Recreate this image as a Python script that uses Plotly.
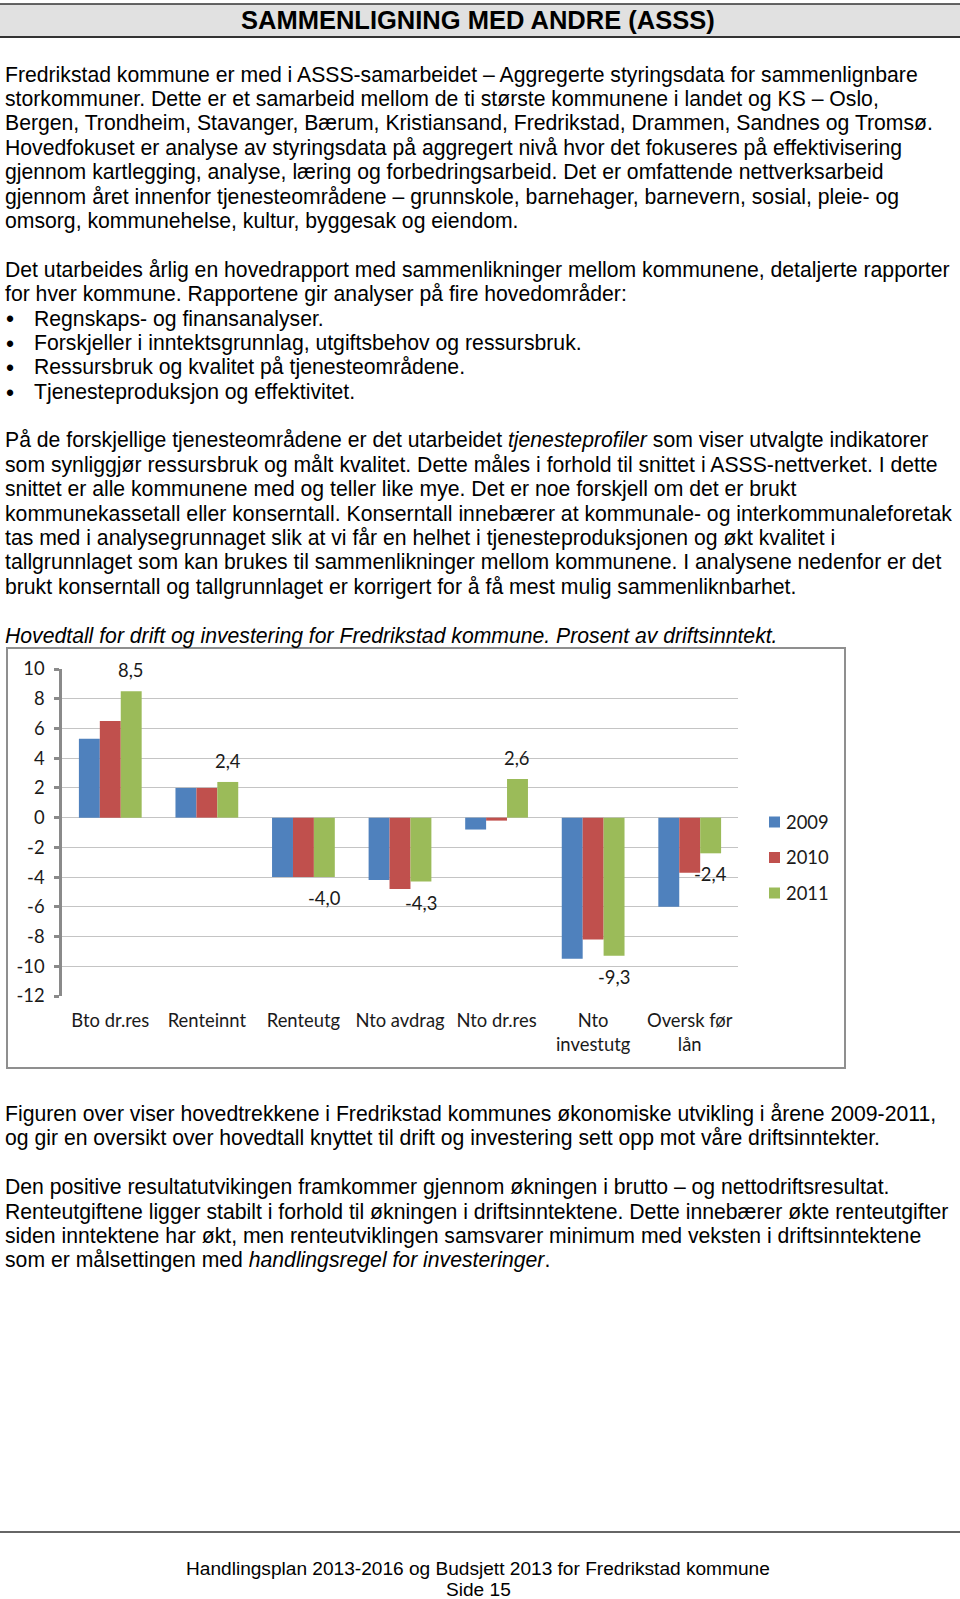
import plotly.graph_objects as go

# ---- chart data (prosent av driftsinntekt) ----
categories = ["Bto dr.res", "Renteinnt", "Renteutg", "Nto avdrag", "Nto dr.res",
              "Nto<br>investutg", "Oversk før<br>lån"]
years = ["2009", "2010", "2011"]
v2009 = [5.3, 2.0, -4.0, -4.2, -0.8, -9.5, -6.0]
v2010 = [6.5, 2.0, -4.0, -4.8, -0.2, -8.2, -3.7]
v2011 = [8.5, 2.4, -4.0, -4.3, 2.6, -9.3, -2.4]
colors = ["#4F81BD", "#C0504D", "#9BBB59"]
yticks = list(range(-12, 11, 2))

# ---- page text ----
header = "SAMMENLIGNING MED ANDRE (ASSS)"
para1 = [
    "Fredrikstad kommune er med i ASSS-samarbeidet – Aggregerte styringsdata for sammenlignbare",
    "storkommuner. Dette er et samarbeid mellom de ti største kommunene i landet og KS – Oslo,",
    "Bergen, Trondheim, Stavanger, Bærum, Kristiansand, Fredrikstad, Drammen, Sandnes og Tromsø.",
    "Hovedfokuset er analyse av styringsdata på aggregert nivå hvor det fokuseres på effektivisering",
    "gjennom kartlegging, analyse, læring og forbedringsarbeid. Det er omfattende nettverksarbeid",
    "gjennom året innenfor tjenesteområdene – grunnskole, barnehager, barnevern, sosial, pleie- og",
    "omsorg, kommunehelse, kultur, byggesak og eiendom.",
]
para2 = [
    "Det utarbeides årlig en hovedrapport med sammenlikninger mellom kommunene, detaljerte rapporter",
    "for hver kommune. Rapportene gir analyser på fire hovedområder:",
]
bullets = [
    "Regnskaps- og finansanalyser.",
    "Forskjeller i inntektsgrunnlag, utgiftsbehov og ressursbruk.",
    "Ressursbruk og kvalitet på tjenesteområdene.",
    "Tjenesteproduksjon og effektivitet.",
]
para3 = [
    "På de forskjellige tjenesteområdene er det utarbeidet <i>tjenesteprofiler</i> som viser utvalgte indikatorer",
    "som synliggjør ressursbruk og målt kvalitet. Dette måles i forhold til snittet i ASSS-nettverket. I dette",
    "snittet er alle kommunene med og teller like mye. Det er noe forskjell om det er brukt",
    "kommunekassetall eller konserntall. Konserntall innebærer at kommunale- og interkommunaleforetak",
    "tas med i analysegrunnaget slik at vi får en helhet i tjenesteproduksjonen og økt kvalitet i",
    "tallgrunnlaget som kan brukes til sammenlikninger mellom kommunene. I analysene nedenfor er det",
    "brukt konserntall og tallgrunnlaget er korrigert for å få mest mulig sammenliknbarhet.",
]
caption = "<i>Hovedtall for drift og investering for Fredrikstad kommune. Prosent av driftsinntekt.</i>"
para4 = [
    "Figuren over viser hovedtrekkene i Fredrikstad kommunes økonomiske utvikling i årene 2009-2011,",
    "og gir en oversikt over hovedtall knyttet til drift og investering sett opp mot våre driftsinntekter.",
]
para5 = [
    "Den positive resultatutvikingen framkommer gjennom økningen i brutto – og nettodriftsresultat.",
    "Renteutgiftene ligger stabilt i forhold til økningen i driftsinntektene. Dette innebærer økte renteutgifter",
    "siden inntektene har økt, men renteutviklingen samsvarer minimum med veksten i driftsinntektene",
    "som er målsettingen med <i>handlingsregel for investeringer</i>.",
]
footer = ["Handlingsplan 2013-2016 og Budsjett 2013 for Fredrikstad kommune", "Side 15"]

W, H = 960, 1599
def px(x): return x / W
def py(y): return 1 - y / H

LINE = 24.4
BODY = dict(family="Liberation Sans, Arial, sans-serif", size=21.2, color="#000000")
CHART_FONT = dict(family="Lato, sans-serif", size=18.4, color="#1a1a1a")

# plot area in page pixels
X0, X1, YT, YB = 62, 738, 669, 996
BARGAP = 0.35
ymin, ymax = -12, 10
ydom = [py(YB), py(YT)]
zero_pos = ydom[0] + (0 - ymin) / (ymax - ymin) * (ydom[1] - ydom[0])

fig = go.Figure()
for yr, vals, col in zip(years, [v2009, v2010, v2011], colors):
    fig.add_trace(go.Bar(x=categories, y=vals, name=yr, marker_color=col,
                         marker_line_width=0, hoverinfo="x+y", showlegend=False))

ann = []
def line(text, x, y, **kw):
    d = dict(text=text, x=px(x), y=py(y), xref="paper", yref="paper",
             xanchor="left", yanchor="middle", showarrow=False, font=BODY)
    d.update(kw)
    ann.append(d)

line("<b>" + header + "</b>", 478, 20, xanchor="center",
     font=dict(family="Liberation Sans, Arial, sans-serif", size=25.5, color="#000"))

y = 74.5
for t in para1:
    line(t, 3, y); y += LINE
y += LINE
for t in para2:
    line(t, 3, y); y += LINE
for t in bullets:
    line("•", 4, y + 1, font=dict(BODY, size=23)); line(t, 32, y); y += LINE
y += LINE
for t in para3:
    line(t, 3, y); y += LINE
y += LINE
line(caption, 3, y)

y = 1114
for t in para4:
    line(t, 3, y); y += LINE
y += LINE
for t in para5:
    line(t, 3, y); y += LINE

footer_font = dict(family="Liberation Sans, Arial, sans-serif", size=19.1, color="#000")
line(footer[0], 478, 1568, xanchor="center", font=footer_font)
line(footer[1], 478, 1589, xanchor="center", font=footer_font)

# data labels for 2011 (green) bars
bar_w = (X1 - X0) / len(categories) * (1 - BARGAP) / 3
for c, v in zip(categories, v2011):
    ann.append(dict(text=f"{v:.1f}".replace(".", ","), x=c, y=v, xref="x", yref="y",
                    xshift=bar_w, yshift=21 if v >= 0 else -21, showarrow=False,
                    yanchor="middle", font=CHART_FONT))

shapes = [
    dict(type="rect", xref="paper", yref="paper", x0=0, x1=1, y0=py(37), y1=py(4),
         fillcolor="#e1e1e1", line_width=0, layer="below"),
    dict(type="line", xref="paper", yref="paper", x0=0, x1=1, y0=py(4), y1=py(4),
         line=dict(color="#333333", width=1.5)),
    dict(type="line", xref="paper", yref="paper", x0=0, x1=1, y0=py(37), y1=py(37),
         line=dict(color="#333333", width=2)),
    dict(type="rect", xref="paper", yref="paper", x0=px(7), x1=px(845), y0=py(1068), y1=py(648),
         line=dict(color="#8f8f8f", width=2), fillcolor="white", layer="below"),
    dict(type="line", xref="paper", yref="paper", x0=0, x1=1, y0=py(1532), y1=py(1532),
         line=dict(color="#333333", width=1.5)),
]

# legend drawn by hand so the square sits close to its label
LEG_X, LEG_Y, LEG_STEP = 769, 822, 35.5
for i, (yr, col) in enumerate(zip(years, colors)):
    yc = LEG_Y + i * LEG_STEP
    shapes.append(dict(type="rect", xref="paper", yref="paper", x0=px(LEG_X), x1=px(LEG_X + 11),
                       y0=py(yc + 5.5), y1=py(yc - 5.5), fillcolor=col, line_width=0))
    line(yr, LEG_X + 15, yc, font=CHART_FONT)

fig.update_layout(
    width=W, height=H,
    margin=dict(l=0, r=0, t=0, b=0, autoexpand=False),
    paper_bgcolor="white", plot_bgcolor="white",
    barmode="group", bargap=BARGAP, bargroupgap=0,
    annotations=ann, shapes=shapes,
    xaxis=dict(domain=[px(X0), px(X1)], type="category", showgrid=False, showline=False,
               ticks="", tickfont=CHART_FONT, ticklabelstandoff=12, fixedrange=True,
               automargin=False),
    xaxis2=dict(overlaying="x", anchor="free", position=zero_pos,
                range=[-0.5, len(categories) - 0.5],
                tickvals=[i + 0.5 for i in range(len(categories))],
                ticks="outside", ticklen=4, tickwidth=3, tickcolor="#8a8a8a",
                showline=True, linewidth=3, linecolor="#8a8a8a",
                showticklabels=False, showgrid=False, zeroline=False),
    yaxis=dict(domain=ydom, range=[ymin, ymax], tickvals=yticks,
               ticktext=[str(t) for t in yticks], tickfont=CHART_FONT,
               showgrid=True, gridcolor="#c4c4c4", gridwidth=1,
               showline=True, linewidth=2.5, linecolor="#8a8a8a",
               ticks="outside", ticklen=5, tickwidth=2.5, tickcolor="#8a8a8a",
               zeroline=False, ticklabelstandoff=6, automargin=False),
    showlegend=False,
)

# page margin off so the 960x1599 figure fills the window exactly
fig.write_html("out.html", config={"displayModeBar": False}, post_script=(
    "document.body.style.margin='0px';"
    "document.documentElement.style.overflow='hidden';"
    "document.body.style.overflow='hidden';"))
